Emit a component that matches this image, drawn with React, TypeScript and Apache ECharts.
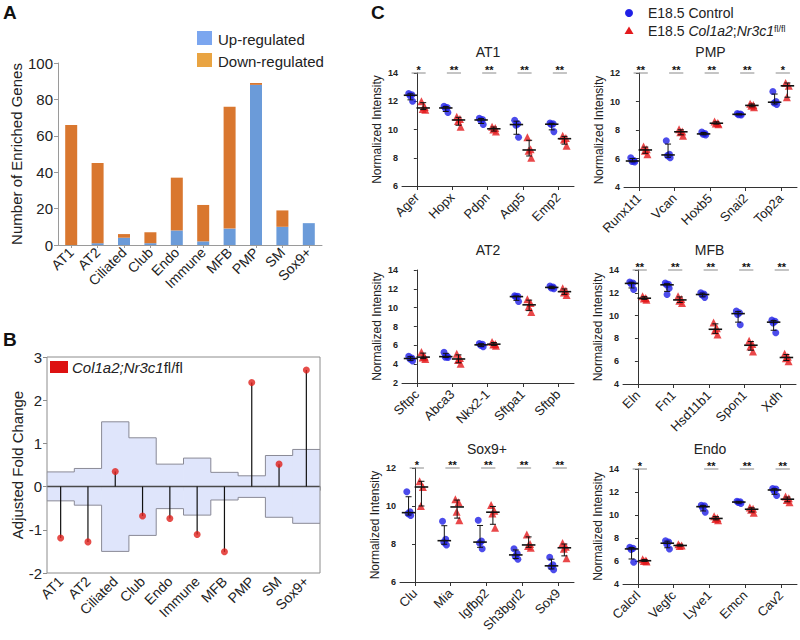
import React, { useEffect, useRef } from 'react';
import * as echarts from 'echarts';

const FONT = "'Liberation Sans', Arial, Helvetica, sans-serif";

// ---------- Panel A ----------
const A_CATEGORIES = ['AT1', 'AT2', 'Ciliated', 'Club', 'Endo', 'Immune', 'MFB', 'PMP', 'SM', 'Sox9+'];
const A_UP = [0, 1, 4, 1, 8, 2, 9, 88, 10, 12];
const A_DOWN = [66, 44, 2, 6, 29, 20, 67, 1, 9, 0];
const A_SERIES_NAMES = ['Up-regulated', 'Down-regulated'];

// ---------- Panel B ----------
const B_CATEGORIES = ['AT1', 'AT2', 'Ciliated', 'Club', 'Endo', 'Immune', 'MFB', 'PMP', 'SM', 'Sox9+'];
const B_FOLD = [-1.19, -1.28, 0.35, -0.68, -0.74, -1.11, -1.51, 2.41, 0.52, 2.7];
const B_UPPER = [0.34, 0.42, 1.5, 1.13, 0.52, 0.66, 0.33, 0.25, 0.72, 0.86];
const B_LOWER = [-0.33, -0.43, -1.5, -1.13, -0.51, -0.66, -0.31, -0.25, -0.71, -0.85];

// ---------- Panel C ----------
const AT1_GENES = ['Ager', 'Hopx', 'Pdpn', 'Aqp5', 'Emp2'];
const AT1_CONTROL = [[12.55, 12.45, 12.4, 12.0], [11.65, 11.55, 11.5, 11.2], [10.8, 10.7, 10.65, 10.35], [10.65, 10.4, 10.3, 9.45], [10.45, 10.4, 10.35, 9.85]];
const AT1_MUTANT = [[12.0, 11.6, 11.45, 11.4], [10.9, 10.75, 10.6, 10.2], [10.2, 10.1, 10.0, 9.85], [9.45, 8.6, 8.5, 8.0], [9.55, 9.4, 9.3, 8.85]];
const AT1_SIG = ['*', '**', '**', '**', '**'];

const PMP_GENES = ['Runx1t1', 'Vcan', 'Hoxb5', 'Snai2', 'Top2a'];
const PMP_CONTROL = [[6.05, 5.85, 5.8, 5.75], [7.25, 6.3, 6.2, 6.05], [7.85, 7.75, 7.7, 7.65], [9.15, 9.12, 9.08, 9.05], [10.7, 10.0, 9.9, 9.8]];
const PMP_MUTANT = [[6.85, 6.65, 6.55, 6.3], [8.05, 7.9, 7.85, 7.6], [8.6, 8.5, 8.45, 8.4], [9.85, 9.75, 9.7, 9.6], [11.3, 11.1, 10.3]];
const PMP_SIG = ['**', '**', '**', '**', '*'];

const AT2_GENES = ['Sftpc', 'Abca3', 'Nkx2-1', 'Sftpa1', 'Sftpb'];
const AT2_CONTROL = [[4.85, 4.65, 4.55, 4.35], [5.25, 4.85, 4.75, 4.7], [6.2, 6.1, 6.0, 5.85], [11.25, 11.2, 11.15, 10.65], [12.3, 12.2, 12.1, 12.0]];
const AT2_MUTANT = [[5.3, 4.8, 4.7, 4.55], [5.1, 4.65, 4.45, 4.05], [6.35, 6.15, 6.1, 5.95], [10.9, 10.5, 10.1, 9.55], [12.05, 11.8, 11.6, 11.35]];
const AT2_SIG = ['', '', '', '', ''];

const MFB_GENES = ['Eln', 'Fn1', 'Hsd11b1', 'Spon1', 'Xdh'];
const MFB_CONTROL = [[12.95, 12.85, 12.8, 12.3], [12.85, 12.75, 12.7, 12.4, 11.85], [12.0, 11.9, 11.8, 11.6], [10.4, 10.25, 10.1, 9.2], [9.6, 9.5, 9.35, 8.5]];
const MFB_MUTANT = [[11.7, 11.55, 11.5, 11.4], [11.7, 11.45, 11.3, 11.1], [9.4, 8.9, 8.7, 8.35], [7.8, 7.5, 7.3, 6.85], [6.65, 6.4, 6.25, 6.0]];
const MFB_SIG = ['**', '**', '**', '**', '**'];

const SOX9_GENES = ['Clu', 'Mia', 'Igfbp2', 'Sh3bgrl2', 'Sox9'];
const SOX9_CONTROL = [[10.75, 9.7, 9.6, 9.5], [9.2, 8.25, 8.1, 7.95], [9.25, 8.15, 8.05, 7.75], [7.75, 7.5, 7.35, 7.2], [7.3, 6.9, 6.8, 6.65]];
const SOX9_MUTANT = [[11.3, 11.0, 10.0], [10.35, 10.2, 9.7, 9.25], [10.05, 9.75, 9.6, 8.85], [8.5, 8.0, 7.9, 7.8], [8.05, 7.85, 7.75, 7.25]];
const SOX9_SIG = ['*', '**', '**', '**', '**'];

const ENDO_GENES = ['Calcrl', 'Vegfc', 'Lyve1', 'Emcn', 'Cav2'];
const ENDO_CONTROL = [[7.2, 7.1, 7.0, 5.9], [7.75, 7.65, 7.45, 7.05], [10.85, 10.8, 10.65, 10.25], [11.2, 11.15, 11.1, 11.0], [12.3, 12.25, 12.1, 11.7]];
const ENDO_MUTANT = [[6.15, 6.05, 6.0, 5.95], [7.45, 7.35, 7.3], [9.9, 9.75, 9.65, 9.55], [10.65, 10.55, 10.45, 10.2], [11.6, 11.45, 11.3, 11.1]];
const ENDO_SIG = ['*', '', '**', '**', '**'];

const C_TITLES = ['AT1', 'PMP', 'AT2', 'MFB', 'Sox9+', 'Endo'];
const C_Y_TICKS = [[6, 14], [4, 12], [2, 14], [4, 14], [6, 12], [4, 14]];

// layout (styles / positions)
const C_LAYOUT = [
  { left: 402, top: 73, width: 172, height: 113, titleY: 52 },
  { left: 624, top: 73, width: 173, height: 114, titleY: 52 },
  { left: 402, top: 270, width: 172, height: 113, titleY: 250 },
  { left: 623, top: 270, width: 173, height: 114, titleY: 250 },
  { left: 400, top: 468, width: 174, height: 114, titleY: 449 },
  { left: 623, top: 469, width: 174, height: 115, titleY: 449 },
];
const JITTER = [-0.05, 0.04, -0.015, 0.06, 0.0];
const GROUP_OFFSET = 0.18;
const BLUE = '#1f1fe6';
const RED = '#e3191c';
const BAND_FILL = '#dfe5fb';
const BAND_LINE = '#8a8a96';

function quantile(sorted: number[], p: number) {
  const n = sorted.length;
  const pos = (n + 1) * p;
  if (pos <= 1) return sorted[0];
  if (pos >= n) return sorted[n - 1];
  const lo = Math.floor(pos);
  return sorted[lo - 1] + (pos - lo) * (sorted[lo] - sorted[lo - 1]);
}
function stats(vals: number[]) {
  const s = [...vals].sort((a, b) => a - b);
  return [quantile(s, 0.5), quantile(s, 0.25), quantile(s, 0.75)];
}

function buildOption() {
  const panels = [
    { genes: AT1_GENES, ctrl: AT1_CONTROL, mut: AT1_MUTANT, sig: AT1_SIG },
    { genes: PMP_GENES, ctrl: PMP_CONTROL, mut: PMP_MUTANT, sig: PMP_SIG },
    { genes: AT2_GENES, ctrl: AT2_CONTROL, mut: AT2_MUTANT, sig: AT2_SIG },
    { genes: MFB_GENES, ctrl: MFB_CONTROL, mut: MFB_MUTANT, sig: MFB_SIG },
    { genes: SOX9_GENES, ctrl: SOX9_CONTROL, mut: SOX9_MUTANT, sig: SOX9_SIG },
    { genes: ENDO_GENES, ctrl: ENDO_CONTROL, mut: ENDO_MUTANT, sig: ENDO_SIG },
  ];

  const grid: any[] = [
    { left: 58, top: 63, width: 264, height: 182 },
    { left: 47, top: 357, width: 273, height: 216, show: true, borderColor: '#8c8c8c', borderWidth: 1, backgroundColor: 'transparent', z: 5 },
  ];
  const xAxis: any[] = [
    {
      type: 'category', gridIndex: 0, data: A_CATEGORIES,
      axisLine: { lineStyle: { color: '#9a9a9a' } },
      axisTick: { show: true, alignWithLabel: true, length: 3, lineStyle: { color: '#9a9a9a' } },
      axisLabel: { rotate: 45, fontSize: 14, color: '#222', interval: 0, margin: 5, fontFamily: FONT },
    },
    {
      type: 'category', gridIndex: 1, data: B_CATEGORIES,
      axisLine: { lineStyle: { color: '#8c8c8c' } },
      axisTick: { show: true, alignWithLabel: false, length: 4, interval: 0, lineStyle: { color: '#8c8c8c' } },
      axisLabel: { rotate: 45, fontSize: 14, color: '#222', interval: 0, margin: 6, fontFamily: FONT },
    },
    { type: 'value', gridIndex: 1, min: 0, max: 10, show: false },
  ];
  const yAxis: any[] = [
    {
      type: 'value', gridIndex: 0, min: 0, max: 100, interval: 20,
      axisLine: { show: true, lineStyle: { color: '#9a9a9a' } },
      axisTick: { show: true, length: 4, lineStyle: { color: '#9a9a9a' } },
      axisLabel: { fontSize: 15, color: '#222', fontFamily: FONT, margin: 5 },
      splitLine: { show: false },
      name: 'Number of Enriched Genes', nameLocation: 'middle', nameGap: 30,
      nameTextStyle: { fontSize: 15, color: '#222', fontFamily: FONT },
    },
    {
      type: 'value', gridIndex: 1, min: -2, max: 3, interval: 1,
      axisLine: { show: false },
      axisTick: { show: true, length: 4, lineStyle: { color: '#8c8c8c' } },
      axisLabel: { fontSize: 15, color: '#222', fontFamily: FONT, margin: 5 },
      splitLine: { show: false },
      name: 'Adjusted Fold Change', nameLocation: 'middle', nameGap: 20,
      nameTextStyle: { fontSize: 15, color: '#222', fontFamily: FONT },
    },
  ];

  const bandData = B_CATEGORIES.map((_, i) => [i, B_LOWER[i], B_UPPER[i]]);

  const series: any[] = [
    { name: A_SERIES_NAMES[0], type: 'bar', xAxisIndex: 0, yAxisIndex: 0, stack: 'a', data: A_UP, barWidth: 12, itemStyle: { color: '#6b9bd9' } },
    { name: A_SERIES_NAMES[1], type: 'bar', xAxisIndex: 0, yAxisIndex: 0, stack: 'a', data: A_DOWN, barWidth: 12, itemStyle: { color: '#d9772f' } },
    // B band fill
    {
      type: 'custom', xAxisIndex: 2, yAxisIndex: 1, data: bandData, z: 1, encode: { x: 0, y: [1, 2] },
      renderItem: (params: any, api: any) => {
        const i = api.value(0);
        const p1 = api.coord([i, api.value(2)]);
        const p2 = api.coord([i + 1, api.value(1)]);
        return {
          type: 'rect',
          shape: { x: p1[0] - 0.3, y: p1[1], width: p2[0] - p1[0] + 0.6, height: p2[1] - p1[1] },
          style: { fill: BAND_FILL },
        };
      },
    },
    // B band outline
    {
      type: 'custom', xAxisIndex: 2, yAxisIndex: 1, data: bandData, z: 2, encode: { x: 0, y: [1, 2] },
      renderItem: (params: any, api: any) => {
        const i = api.value(0);
        const lo = api.value(1);
        const up = api.value(2);
        const st = { stroke: BAND_LINE, lineWidth: 1 };
        const a1 = api.coord([i, up]);
        const a2 = api.coord([i + 1, up]);
        const b1 = api.coord([i, lo]);
        const b2 = api.coord([i + 1, lo]);
        const children: any[] = [
          { type: 'line', shape: { x1: a1[0], y1: a1[1], x2: a2[0], y2: a2[1] }, style: st },
          { type: 'line', shape: { x1: b1[0], y1: b1[1], x2: b2[0], y2: b2[1] }, style: st },
        ];
        const n = params.dataIndex + 1;
        if (n < B_UPPER.length) {
          const c = api.coord([i + 1, B_UPPER[n]]);
          const d = api.coord([i + 1, B_LOWER[n]]);
          children.push({ type: 'line', shape: { x1: a2[0], y1: a2[1], x2: c[0], y2: c[1] }, style: st });
          children.push({ type: 'line', shape: { x1: b2[0], y1: b2[1], x2: d[0], y2: d[1] }, style: st });
        }
        return { type: 'group', children };
      },
    },
    {
      type: 'line', xAxisIndex: 2, yAxisIndex: 1, symbol: 'none', z: 3,
      data: [[0, 0], [B_CATEGORIES.length, 0]],
      lineStyle: { color: '#4a4a4a', width: 1.5 },
    },
    { type: 'bar', xAxisIndex: 1, yAxisIndex: 1, data: B_FOLD, barWidth: 1.2, itemStyle: { color: '#111' }, z: 4 },
    { type: 'scatter', xAxisIndex: 1, yAxisIndex: 1, data: B_FOLD, symbol: 'circle', symbolSize: 7, itemStyle: { color: '#e0201b' }, z: 5 },
  ];

  const graphic: any[] = [
    { type: 'text', x: 3, y: 12, style: { text: 'A', fontSize: 19, fontWeight: 'bold', fontFamily: FONT, fill: '#111', verticalAlign: 'middle' } },
    { type: 'text', x: 3, y: 339, style: { text: 'B', fontSize: 19, fontWeight: 'bold', fontFamily: FONT, fill: '#111', verticalAlign: 'middle' } },
    { type: 'text', x: 371, y: 12, style: { text: 'C', fontSize: 19, fontWeight: 'bold', fontFamily: FONT, fill: '#111', verticalAlign: 'middle' } },
    // A legend
    { type: 'rect', shape: { x: 197, y: 31, width: 15, height: 14 }, style: { fill: '#7ba6ef' } },
    { type: 'rect', shape: { x: 197, y: 53, width: 15, height: 14 }, style: { fill: '#e9a442' } },
    { type: 'text', x: 218, y: 39, style: { text: A_SERIES_NAMES[0], fontSize: 15, fontFamily: FONT, fill: '#222', verticalAlign: 'middle' } },
    { type: 'text', x: 218, y: 61, style: { text: A_SERIES_NAMES[1], fontSize: 15, fontFamily: FONT, fill: '#222', verticalAlign: 'middle' } },
    // B legend
    { type: 'rect', shape: { x: 50, y: 361, width: 18, height: 12 }, style: { fill: '#dd1111' }, z: 10 },
    {
      type: 'text', x: 72, y: 367, z: 10,
      style: {
        text: '{i|Col1a2;Nr3c1}fl/fl', fontSize: 15, fontFamily: FONT, fill: '#222', verticalAlign: 'middle',
        rich: { i: { fontStyle: 'italic', fontSize: 15, fontFamily: FONT, fill: '#222' } },
      },
    },
    // C legend
    { type: 'circle', shape: { cx: 629, cy: 13, r: 4 }, style: { fill: BLUE } },
    { type: 'polygon', shape: { points: [[629, 26.5], [633.5, 34], [624.5, 34]] }, style: { fill: RED } },
    { type: 'text', x: 648, y: 13, style: { text: 'E18.5 Control', fontSize: 14, fontFamily: FONT, fill: '#222', verticalAlign: 'middle' } },
    {
      type: 'text', x: 648, y: 31,
      style: {
        text: 'E18.5 {i|Col1a2};{i|Nr3c1}{s|fl/fl}', fontSize: 14, fontFamily: FONT, fill: '#222', verticalAlign: 'middle',
        rich: {
          i: { fontStyle: 'italic', fontSize: 14, fontFamily: FONT, fill: '#222' },
          s: { fontSize: 9, fontFamily: FONT, fill: '#222', verticalAlign: 'top' },
        },
      },
    },
  ];

  panels.forEach((p, k) => {
    const L = C_LAYOUT[k];
    const [ymin, ymax] = C_Y_TICKS[k];
    grid.push({ left: L.left, top: L.top, width: L.width, height: L.height });
    const xi = xAxis.length;
    const yi = yAxis.length;
    const idx = p.genes.map((_, i) => i);
    xAxis.push({
      type: 'value', gridIndex: 2 + k, min: -0.42, max: 4.45,
      splitLine: { show: false },
      axisLine: { show: true, onZero: false, lineStyle: { color: '#333' } },
      axisTick: { show: true, customValues: idx, length: 4, lineStyle: { color: '#333' } },
      axisLabel: {
        customValues: idx, formatter: (v: number) => p.genes[Math.round(v)] ?? '',
        rotate: 45, fontSize: 13, color: '#222', margin: 9, fontFamily: FONT,
      },
    });
    yAxis.push({
      type: 'value', gridIndex: 2 + k, min: ymin, max: ymax, interval: 2,
      axisLine: { show: true, lineStyle: { color: '#333' } },
      axisTick: { show: true, length: 3, lineStyle: { color: '#333' } },
      axisLabel: { fontSize: 9, fontWeight: 'bold', color: '#222', margin: 4, fontFamily: FONT },
      splitLine: { show: false },
      name: 'Normalized Intensity', nameLocation: 'middle', nameGap: 19,
      nameTextStyle: { fontSize: 12, color: '#222', fontFamily: FONT },
    });

    const ctrlPts: number[][] = [];
    const mutPts: number[][] = [];
    const statPts: number[][] = [];
    p.ctrl.forEach((vals, i) => {
      vals.forEach((v, j) => ctrlPts.push([i - GROUP_OFFSET + JITTER[j % JITTER.length], v]));
      statPts.push([i - GROUP_OFFSET, ...stats(vals)]);
    });
    p.mut.forEach((vals, i) => {
      vals.forEach((v, j) => mutPts.push([i + GROUP_OFFSET + JITTER[j % JITTER.length], v]));
      statPts.push([i + GROUP_OFFSET, ...stats(vals)]);
    });

    series.push({
      type: 'scatter', xAxisIndex: xi, yAxisIndex: yi, data: ctrlPts, symbol: 'circle', symbolSize: 7,
      itemStyle: { color: BLUE }, z: 2,
    });
    series.push({
      type: 'scatter', xAxisIndex: xi, yAxisIndex: yi, data: mutPts, symbol: 'triangle', symbolSize: 8,
      itemStyle: { color: RED }, z: 2,
    });
    series.push({
      type: 'custom', xAxisIndex: xi, yAxisIndex: yi, data: statPts, z: 3, clip: false,
      encode: { x: 0, y: 1 },
      renderItem: (params: any, api: any) => {
        const x = api.value(0);
        const m = api.value(1);
        const lo = api.value(2);
        const hi = api.value(3);
        const a = api.coord([x - 0.19, m]);
        const b = api.coord([x + 0.19, m]);
        const pl = api.coord([x, lo]);
        const ph = api.coord([x, hi]);
        const cap = 3;
        const st = { stroke: '#111', lineWidth: 1 };
        return {
          type: 'group',
          children: [
            { type: 'line', shape: { x1: pl[0], y1: pl[1], x2: ph[0], y2: ph[1] }, style: st },
            { type: 'line', shape: { x1: pl[0] - cap, y1: pl[1], x2: pl[0] + cap, y2: pl[1] }, style: st },
            { type: 'line', shape: { x1: ph[0] - cap, y1: ph[1], x2: ph[0] + cap, y2: ph[1] }, style: st },
            { type: 'line', shape: { x1: a[0], y1: a[1], x2: b[0], y2: b[1] }, style: { stroke: '#111', lineWidth: 1.6 } },
          ],
        };
      },
    });
    const sigData = p.sig.map((s, i) => [i, ymax]).filter((_, i) => p.sig[i] !== '');
    const sigLabels = p.sig.filter((s) => s !== '');
    if (sigData.length) {
      series.push({
        type: 'custom', xAxisIndex: xi, yAxisIndex: yi, data: sigData, z: 3, clip: false,
        encode: { x: 0, y: 1 },
        renderItem: (params: any, api: any) => {
          const i = api.value(0);
          const y = api.value(1);
          const a = api.coord([i - 0.15, y]);
          const b = api.coord([i + 0.25, y]);
          return {
            type: 'group',
            children: [
              { type: 'line', shape: { x1: a[0], y1: a[1], x2: b[0], y2: b[1] }, style: { stroke: '#8a8a8a', lineWidth: 1 } },
              {
                type: 'text', x: (a[0] + b[0]) / 2, y: a[1] + 2,
                style: { text: sigLabels[params.dataIndex], fontSize: 11, fontWeight: 'bold', fontFamily: FONT, fill: '#111', align: 'center', verticalAlign: 'bottom' },
              },
            ],
          };
        },
      });
    }

    graphic.push({
      type: 'text', x: L.left + L.width / 2, y: L.titleY,
      style: { text: C_TITLES[k], fontSize: 14, fontFamily: FONT, fill: '#222', align: 'center', verticalAlign: 'middle' },
    });
  });

  return {
    animation: false,
    backgroundColor: '#fff',
    textStyle: { fontFamily: FONT },
    grid, xAxis, yAxis, series, graphic,
  };
}

export default function App() {
  const ref = useRef<HTMLDivElement>(null);
  useEffect(() => {
    const chart = echarts.init(ref.current!, null, { renderer: 'svg' });
    chart.setOption(buildOption() as any);
    return () => chart.dispose();
  }, []);
  return (
    <div
      ref={ref}
      style={{ position: 'absolute', left: 0, top: 0, width: 800, height: 640, background: '#fff' }}
    />
  );
}
